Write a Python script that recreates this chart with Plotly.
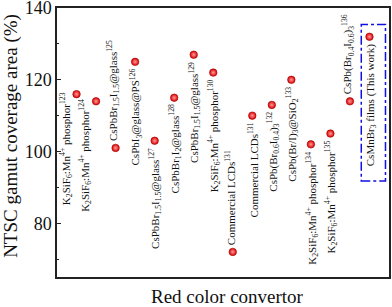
import plotly.graph_objects as go

# ---- data ----
labels = [
    "K<sub>2</sub>SiF<sub>6</sub>:Mn<sup>4+</sup> phosphor<sup>123</sup>",
    "K<sub>2</sub>SiF<sub>6</sub>:Mn<sup>4+</sup> phosphor<sup>124</sup>",
    "CsPbBr<sub>1.5</sub>I<sub>1.5</sub>@glass<sup>125</sup>",
    "CsPbI<sub>3</sub>@glass@PS<sup>126</sup>",
    "CsPbBr<sub>1.5</sub>I<sub>1.5</sub>@glass<sup>127</sup>",
    "CsPbBr<sub>1</sub>I<sub>2</sub>@glass<sup>128</sup>",
    "CsPbBr<sub>1.5</sub>I<sub>1.5</sub>@glass<sup>129</sup>",
    "K<sub>2</sub>SiF<sub>6</sub>:Mn<sup>4+</sup> phosphor<sup>130</sup>",
    "Commercial LCDs<sup>131</sup>",
    "Commercial LCDs<sup>131</sup>",
    "CsPb(Br<sub>0.6</sub>I<sub>0.4</sub>)<sub>3</sub><sup>132</sup>",
    "CsPb(Br/I)<sub>3</sub>@SiO<sub>2</sub><sup>133</sup>",
    "K<sub>2</sub>SiF<sub>6</sub>:Mn<sup>4+</sup> phosphor<sup>134</sup>",
    "K<sub>2</sub>SiF<sub>6</sub>:Mn<sup>4+</sup> phosphor<sup>135</sup>",
    "CsPb(Br<sub>0.4</sub>I<sub>0.6</sub>)<sub>3</sub><sup>136</sup>",
    "CsMnBr<sub>3</sub> films (This work)",
]
ntsc = [116, 114, 101, 125, 103, 115, 127, 122, 72, 110, 113, 120, 102, 105, 114, 132]
y_ticks = [80, 100, 120, 140]
x_title = "Red color convertor"
y_title = "NTSC gamut coverage area (%)"

# label placement relative to its point (style)
placement = ["left", "left", "above", "below", "below", "below", "below", "below",
             "above", "below", "below", "below", "below", "below", "above", "below"]

idx = list(range(1, len(ntsc) + 1))
FONT = "Liberation Serif"

fig = go.Figure()
fig.add_trace(go.Scatter(
    x=idx, y=ntsc, mode="markers",
    marker=dict(size=7.5, color="#dd0000",
                gradient=dict(type="radial", color="#ff9a9a"),
                line=dict(color="#a00000", width=0.6)),
    showlegend=False, hoverinfo="skip",
))

for xi, yi, lab, pl in zip(idx, ntsc, labels, placement):
    if pl == "below":
        kw = dict(xanchor="center", yanchor="top", yshift=-5, xshift=1)
    elif pl == "above":
        kw = dict(xanchor="center", yanchor="bottom", yshift=5, xshift=-2)
    else:
        kw = dict(xanchor="right", yanchor="top", yshift=4, xshift=-1)
    fig.add_annotation(x=xi, y=yi, text=lab, showarrow=False, textangle=-90,
                       font=dict(family=FONT, size=11, color="#111"), **kw)

# highlight box around this work
hx, hy = idx[-1], ntsc[-1]
fig.add_shape(type="rect", xref="x", yref="y",
              x0=hx - 0.42, x1=hx + 0.82, y0=hy - 40.2, y1=hy + 3.4,
              line=dict(color="#1010e0", width=1.5, dash="dashdot"))

# axis titles
fig.add_annotation(xref="paper", yref="paper", x=0.515, y=-0.074, text=x_title,
                   showarrow=False, xanchor="center", yanchor="middle",
                   font=dict(family=FONT, size=19, color="#111"))
fig.add_annotation(xref="paper", yref="paper", x=-0.1405, y=0.526, text=y_title,
                   showarrow=False, xanchor="center", yanchor="middle", textangle=-90,
                   font=dict(family=FONT, size=19, color="#111"))

fig.update_layout(
    width=392, height=307,
    margin=dict(l=57, r=3, t=8, b=30, autoexpand=False),
    paper_bgcolor="white", plot_bgcolor="white",
    font=dict(family=FONT, color="#111"),
)
fig.update_xaxes(range=[0, 17], showticklabels=False, ticks="", showgrid=False,
                 zeroline=False, showline=True, linecolor="#222", linewidth=1.5,
                 mirror=True, automargin=False)
fig.update_yaxes(range=[65, 140.02], tickvals=y_ticks, ticks="inside", ticklen=4,
                 tickwidth=1, tickcolor="#222", showgrid=False, zeroline=False,
                 showline=True, linecolor="#222", linewidth=1.5, mirror=True,
                 tickfont=dict(size=18), automargin=False, ticklabeloverflow="allow",
                 minor=dict(ticks="inside", ticklen=2, dtick=10, tick0=0, tickcolor="#222"))

fig.write_html("out.html", config={"displayModeBar": False},
               post_script="document.body.style.margin='0';document.body.style.overflow='hidden';")
